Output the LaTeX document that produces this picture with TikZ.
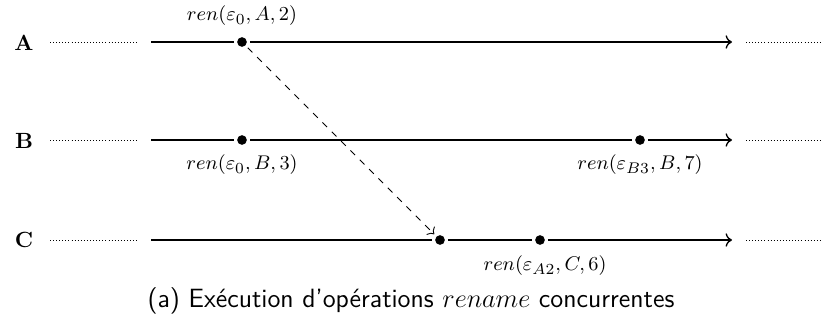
\documentclass[tikz,border=0pt]{standalone}
\usetikzlibrary{arrows.meta}
\begin{document}
\begin{tikzpicture}[x=0.4545pt,y=-0.4545pt,
  proc/.style={font=\bfseries},
  evt/.style={circle,fill=black,inner sep=0pt,minimum size=4.4pt,outer sep=1.5pt},
  lab/.style={font=\fontsize{9.4}{11}\selectfont},
  ln/.style={semithick},
  tl/.style={semithick,-To},
  dots/.style={densely dotted,thin}]
\useasboundingbox (0,0) rectangle (822,325);
% process labels
\node[proc] (pA) at (24,43) {A};
\node[proc] (pB) at (24,141) {B};
\node[proc] (pC) at (24,240) {C};
% coordinates
\foreach \n/\y in {A/42,B/140,C/240}{
  \coordinate (l\n1) at (50,\y);
  \coordinate (l\n2) at (137,\y);
  \coordinate (s\n) at (151,\y);
  \coordinate (e\n) at (732,\y);
  \coordinate (r\n1) at (746,\y);
  \coordinate (r\n2) at (820,\y);
  \draw[dots] (l\n1) -- (l\n2);
  \draw[dots] (r\n1) -- (r\n2);
}
% events
\node[evt] (a1) at (242,42) {};
\node[evt] (b1) at (242,140) {};
\node[evt] (b2) at (640,140) {};
\node[evt] (c1) at (440,240) {};
\node[evt] (c2) at (540,240) {};
% time lines
\draw[ln] (sA) -- (a1);
\draw[tl] (a1) -- (eA);
\draw[ln] (sB) -- (b1);
\draw[ln] (b1) -- (b2);
\draw[tl] (b2) -- (eB);
\draw[ln] (sC) -- (c1);
\draw[ln] (c1) -- (c2);
\draw[tl] (c2) -- (eC);
% message
\draw[thin,dashed,-{To[length=2.5pt]}] (a1) -- (c1);
% event labels
\node[lab] (la1) at (242,16) {$ren(\varepsilon_0,A,2)$};
\node[lab] (lb1) at (242,165) {$ren(\varepsilon_0,B,3)$};
\node[lab] (lb2) at (640,165) {$ren(\varepsilon_{B3},B,7)$};
\node[lab] (lc2) at (545,266) {$ren(\varepsilon_{A2},C,6)$};
% caption
\node[font=\sffamily\large] (cap) at (411,301) {(a) Exécution d'opérations $rename$ concurrentes};
\end{tikzpicture}
\end{document}
